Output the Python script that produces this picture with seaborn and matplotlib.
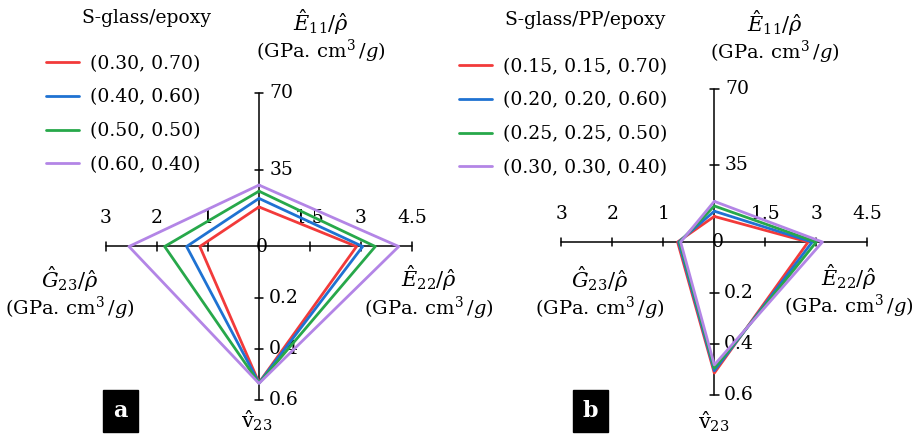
import numpy as np
import pandas as pd
import matplotlib
matplotlib.use("Agg")
import matplotlib.pyplot as plt
import seaborn as sns

sns.set_theme(style="white")
plt.rcParams['font.family'] = ['DejaVu Serif']
plt.rcParams['mathtext.fontset'] = 'dejavuserif'
plt.rcParams['text.color'] = 'black'

# ---------------- data ----------------
axis_max = {"E11": 70.0, "E22": 4.5, "nu23": 0.6, "G23": 3.0}
e11_ticks = [35, 70]
e22_ticks = [1.5, 3, 4.5]
nu_ticks = [0.2, 0.4, 0.6]
g23_ticks = [1, 2, 3]

colors = ["#f23a3a", "#1f72d2", "#27a84a", "#b385e6"]

labels_a = ["(0.30, 0.70)", "(0.40, 0.60)", "(0.50, 0.50)", "(0.60, 0.40)"]
e11_a = [18.1, 22.0, 25.3, 28.1]
e22_a = [2.87, 3.05, 3.42, 4.11]
nu_a = [0.534, 0.535, 0.536, 0.537]
g23_a = [1.16, 1.42, 1.85, 2.55]

labels_b = ["(0.15, 0.15, 0.70)", "(0.20, 0.20, 0.60)", "(0.25, 0.25, 0.50)", "(0.30, 0.30, 0.40)"]
e11_b = [11.7, 14.1, 16.5, 18.6]
e22_b = [2.76, 2.88, 3.00, 3.18]
nu_b = [0.514, 0.505, 0.495, 0.482]
g23_b = [0.72, 0.70, 0.68, 0.66]

W, H = 917, 436
fig = plt.figure(figsize=(W / 100, H / 100), dpi=100)

FS = 13.5
MFS = 15


def build_df(labels, e11, e22, nu, g23):
    rows = []
    for i, lab in enumerate(labels):
        pts = [(0.0, e11[i] / axis_max["E11"]),
               (e22[i] / axis_max["E22"], 0.0),
               (0.0, -nu[i] / axis_max["nu23"]),
               (-g23[i] / axis_max["G23"], 0.0)]
        pts.append(pts[0])
        for k, (x, y) in enumerate(pts):
            rows.append({"series": lab, "order": k, "x": x, "y": y})
    return pd.DataFrame(rows)


def fig_text(x, y, s, **kw):
    fig.text(x / W, 1 - y / H, s, **kw)


def make_panel(cx, cy, R, labels, e11, e22, nu, g23):
    ax = fig.add_axes([(cx - R) / W, (H - cy - R) / H, 2 * R / W, 2 * R / H])
    ax.set_xlim(-1, 1)
    ax.set_ylim(-1, 1)
    ax.axis("off")
    ax.plot([-1, 1], [0, 0], color="black", lw=1.1, clip_on=False, zorder=1)
    ax.plot([0, 0], [-1, 1], color="black", lw=1.1, clip_on=False, zorder=1)
    t = 0.028
    for v in e11_ticks:
        y = v / axis_max["E11"]
        ax.plot([-t, t], [y, y], color="black", lw=1.1, clip_on=False)
        ax.text(0.07, y, f"{v}", fontsize=FS, ha="left", va="center")
    for v in nu_ticks:
        y = -v / axis_max["nu23"]
        ax.plot([-t, t], [y, y], color="black", lw=1.1, clip_on=False)
        ax.text(0.065, y, f"{v}", fontsize=FS, ha="left", va="center")
    for v in e22_ticks:
        x = v / axis_max["E22"]
        ax.plot([x, x], [-t, t], color="black", lw=1.1, clip_on=False)
        ax.text(x, 0.185, f"{v}", fontsize=FS, ha="center", va="center")
    for v in g23_ticks:
        x = -v / axis_max["G23"]
        ax.plot([x, x], [-t, t], color="black", lw=1.1, clip_on=False)
        ax.text(x, 0.185, f"{v}", fontsize=FS, ha="center", va="center")
    ax.text(0.02, 0.0, "0", fontsize=FS, ha="center", va="center")

    df = build_df(labels, e11, e22, nu, g23)
    sns.lineplot(data=df, x="x", y="y", hue="series", hue_order=labels,
                 palette=colors, sort=False, estimator=None, lw=2.0,
                 ax=ax, legend=True, zorder=3)
    for ln in ax.lines:
        ln.set_clip_on(False)
    return ax


def add_legend(ax, x0, ytop):
    handles, labs = ax.get_legend_handles_labels()
    ax.legend(handles, labs, loc="upper left", bbox_to_anchor=(x0 / W, 1 - ytop / H),
              bbox_transform=fig.transFigure, frameon=False, fontsize=FS,
              handlelength=1.75, handletextpad=0.6, labelspacing=0.83, borderpad=0,
              borderaxespad=0)


unit = r"$(\mathrm{GPa.\,cm}^3\,/g)$"


def two_line(x, y1, y2, top):
    fig_text(x, y1, top, fontsize=MFS, ha="center", va="center")
    fig_text(x, y2, unit, fontsize=14, ha="center", va="center")


# ---------- panel a ----------
ax_a = make_panel(259, 246.5, 153, labels_a, e11_a, e22_a, nu_a, g23_a)
add_legend(ax_a, 46, 55)
fig_text(146, 18, "S-glass/epoxy", fontsize=FS, ha="center", va="center")
two_line(321, 22, 51, r"$\hat{E}_{11}/\hat{\rho}$")
two_line(429, 278, 308, r"$\hat{E}_{22}/\hat{\rho}$")
two_line(70, 279, 308, r"$\hat{G}_{23}/\hat{\rho}$")
fig_text(257, 421, r"$\hat{\mathrm{v}}_{23}$", fontsize=MFS, ha="center", va="center")
fig_text(120.5, 410.5, "a", fontsize=16, fontweight="bold", color="white",
         ha="center", va="center",
         bbox=dict(boxstyle="square,pad=0.45", fc="black", ec="black"))

# ---------- panel b ----------
ax_b = make_panel(714.3, 242, 153, labels_b, e11_b, e22_b, nu_b, g23_b)
add_legend(ax_b, 459, 58)
fig_text(585, 20, "S-glass/PP/epoxy", fontsize=FS, ha="center", va="center")
two_line(775, 23, 52, r"$\hat{E}_{11}/\hat{\rho}$")
two_line(849, 277, 306, r"$\hat{E}_{22}/\hat{\rho}$")
two_line(600, 279, 308, r"$\hat{G}_{23}/\hat{\rho}$")
fig_text(714, 422, r"$\hat{\mathrm{v}}_{23}$", fontsize=MFS, ha="center", va="center")
fig_text(590.5, 410.5, "b", fontsize=16, fontweight="bold", color="white",
         ha="center", va="center",
         bbox=dict(boxstyle="square,pad=0.45", fc="black", ec="black"))

fig.savefig("out.png", dpi=100, facecolor="white")
